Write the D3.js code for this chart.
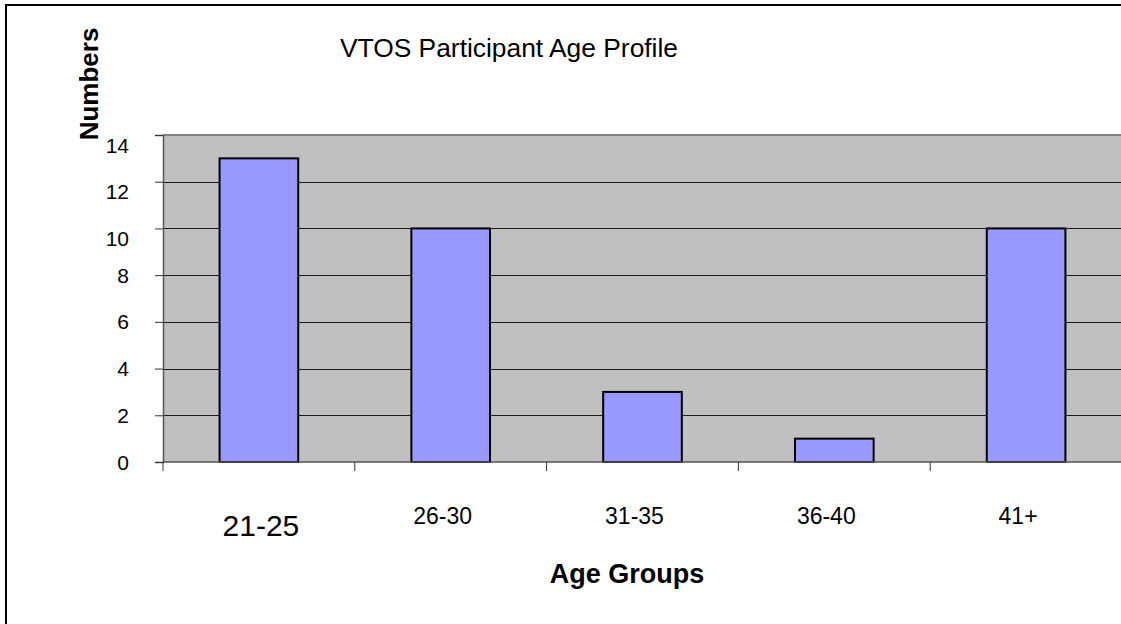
<!DOCTYPE html>
<html>
<head>
<meta charset="utf-8">
<script src="https://cdn.jsdelivr.net/npm/d3@7"></script>
<style>
  html, body { margin: 0; padding: 0; background: #fff; overflow: hidden; }
  svg { display: block; font-family: Arial, "Liberation Sans", sans-serif; }
</style>
</head>
<body>
<svg id="chart" width="1121" height="624"></svg>
<script>
const categories = ["21-25", "26-30", "31-35", "36-40", "41+"];
const values = [13, 10, 3, 1, 10];
const yTicks = [0, 2, 4, 6, 8, 10, 12, 14];
const title = "VTOS Participant Age Profile";
const yTitle = "Numbers";
const xTitle = "Age Groups";

const svg = d3.select("#chart");

// outer frame: only left and top edges fall inside the picture
svg.append("path")
  .attr("d", "M6,700 L6,5 L1200,5")
  .attr("fill", "none").attr("stroke", "#000").attr("stroke-width", 2);

const plot = { left: 163, top: 135, right: 1122, bottom: 462 };

const x = d3.scaleBand().domain(categories)
  .range([plot.left, plot.right]).paddingInner(0.59).paddingOuter(0.295);
const y = d3.scaleLinear().domain([0, 14]).range([plot.bottom, plot.top]);

// plot background
svg.append("rect")
  .attr("x", plot.left).attr("y", plot.top)
  .attr("width", plot.right - plot.left).attr("height", plot.bottom - plot.top)
  .attr("fill", "#c0c0c0");

// gridlines
svg.append("g").selectAll("line")
  .data(yTicks.filter(t => t > 0 && t < 14))
  .join("line")
  .attr("x1", plot.left).attr("x2", plot.right)
  .attr("y1", d => Math.round(y(d)) + 0.5).attr("y2", d => Math.round(y(d)) + 0.5)
  .attr("stroke", "#1a1a1a").attr("stroke-width", 1);
// top border of plot
svg.append("line")
  .attr("x1", plot.left).attr("x2", plot.right)
  .attr("y1", y(14)).attr("y2", y(14))
  .attr("stroke", "#808080").attr("stroke-width", 2);

// bars
svg.append("g").selectAll("rect")
  .data(values)
  .join("rect")
  .attr("x", (d, i) => x(categories[i]))
  .attr("width", x.bandwidth())
  .attr("y", d => y(d))
  .attr("height", d => y(0) - y(d))
  .attr("fill", "#9999ff")
  .attr("stroke", "#000").attr("stroke-width", 2);

// y axis
const yAxis = svg.append("g")
  .attr("transform", `translate(${plot.left},0)`)
  .call(d3.axisLeft(y).tickValues(yTicks).tickSize(8).tickPadding(26).tickFormat(d3.format("d")));
yAxis.select(".domain").attr("stroke", "#555").attr("stroke-width", 1.5);
yAxis.selectAll(".tick line").attr("stroke", "#333");
yAxis.selectAll(".tick text")
  .attr("font-size", 21).attr("fill", "#000")
  .attr("font-family", "Arial, 'Liberation Sans', sans-serif")
  .attr("dy", d => (d >= 10 ? "0.82em" : "0.34em"));

// x axis baseline & ticks at band boundaries
svg.append("line")
  .attr("x1", plot.left).attr("x2", plot.right)
  .attr("y1", plot.bottom).attr("y2", plot.bottom)
  .attr("stroke", "#555").attr("stroke-width", 1.5);
const step = x.step();
svg.append("g").selectAll("line")
  .data(categories)
  .join("line")
  .attr("x1", (d, i) => x(d) - x.paddingOuter() * step)
  .attr("x2", (d, i) => x(d) - x.paddingOuter() * step)
  .attr("y1", plot.bottom).attr("y2", plot.bottom + 9)
  .attr("stroke", "#333").attr("stroke-width", 1);

// x labels
svg.append("g").selectAll("text")
  .data(categories)
  .join("text")
  .attr("x", (d, i) => x(d) + x.bandwidth() / 2 + (i === 0 ? 2 : -8))
  .attr("y", (d, i) => (i === 0 ? 536 : 524))
  .attr("text-anchor", "middle")
  .attr("font-size", (d, i) => (i === 0 ? 30 : 23))
  .attr("fill", "#000")
  .text(d => d);

// title
svg.append("text")
  .attr("x", 340).attr("y", 57)
  .attr("font-size", 25)
  .attr("fill", "#000")
  .attr("textLength", 338).attr("lengthAdjust", "spacingAndGlyphs")
  .text(title);

// y title
svg.append("text")
  .attr("transform", "translate(98,84) rotate(-90)")
  .attr("text-anchor", "middle")
  .attr("font-size", 26).attr("font-weight", "bold")
  .attr("fill", "#000")
  .text(yTitle);

// x title
svg.append("text")
  .attr("x", 627).attr("y", 583)
  .attr("text-anchor", "middle")
  .attr("font-size", 27).attr("font-weight", "bold")
  .attr("fill", "#000")
  .text(xTitle);
</script>
</body>
</html>
